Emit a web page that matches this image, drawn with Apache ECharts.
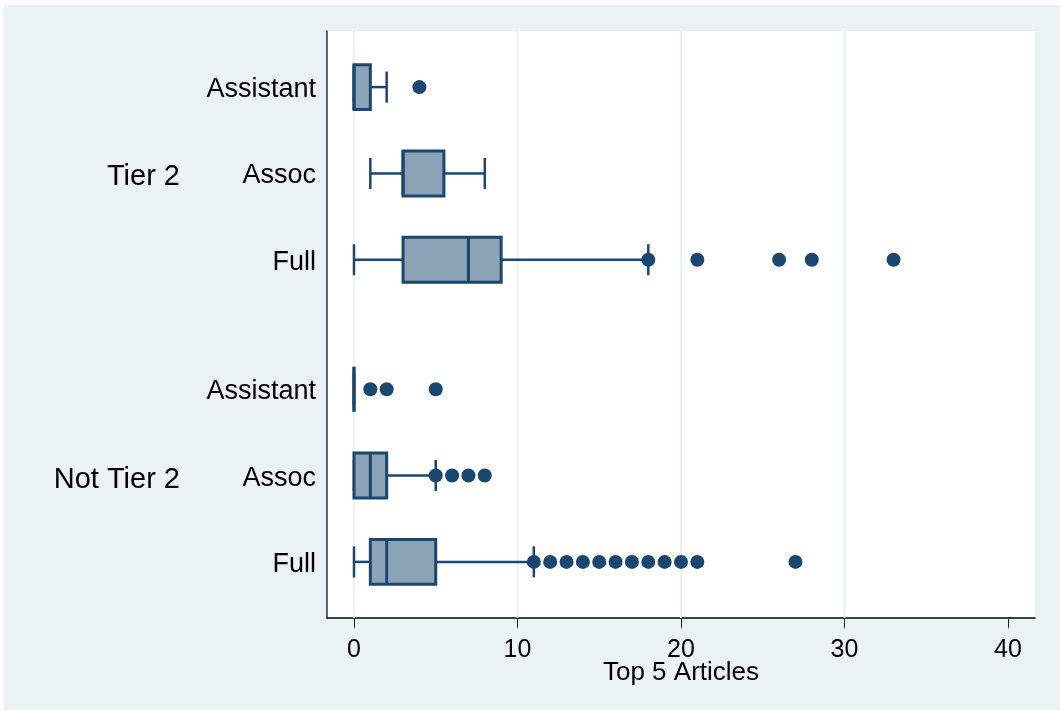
<!DOCTYPE html>
<html>
<head>
<meta charset="utf-8">
<title>Top 5 Articles by rank and tier</title>
<script src="https://cdn.jsdelivr.net/npm/echarts@6/dist/echarts.min.js"></script>
<style>
  html, body { margin: 0; padding: 0; background: #ffffff; }
  #chart { width: 1060px; height: 711px; }
</style>
</head>
<body>
<div id="chart"></div>
<script>
// Groups and academic ranks (top to bottom)
const groups = ['Tier 2', 'Not Tier 2'];
const ranks = ['Assistant', 'Assoc', 'Full'];

// Box statistics per rank: [lower adjacent, q1, median, q3, upper adjacent]
const tier2Boxes = [[0, 0, 0, 1, 2], [1, 3, 3, 5.5, 8], [0, 3, 7, 9, 18]];
const notTier2Boxes = [[0, 0, 0, 0, 0], [0, 0, 1, 2, 5], [0, 1, 2, 5, 11]];

// Individual points drawn beyond the box
const tier2Points = [[4], [], [18, 21, 26, 28, 33]];
const notTier2Points = [[1, 2, 5], [5, 6, 7, 8], [11, 12, 13, 14, 15, 16, 17, 18, 19, 20, 21, 27]];

// Axis ticks and grid lines
const xTicks = [0, 10, 20, 30, 40];
const xGridLines = [0, 10, 20, 30];
const xTitle = 'Top 5 Articles';

const NAVY = '#1a476f';
const BOX_FILL = '#8ca3b7';
const BG = '#eaf2f3';
const FONT = '"Liberation Sans", Arial, Helvetica, sans-serif';

// Row positions on the vertical axis: ranks are one unit apart, groups half a unit further apart
const boxesByGroup = [tier2Boxes, notTier2Boxes];
const pointsByGroup = [tier2Points, notTier2Points];
const rowPos = [], rowName = {}, groupPos = [], groupName = {};
const boxData = [], pointData = [];
groups.forEach((g, gi) => {
  const base = gi * (ranks.length + 0.5);
  ranks.forEach((r, ri) => {
    const p = base + ri;
    rowPos.push(p);
    rowName[p] = r;
    boxData.push([p].concat(boxesByGroup[gi][ri]));
    pointsByGroup[gi][ri].forEach(v => pointData.push([v, p]));
  });
  const mid = base + (ranks.length - 1) / 2;
  groupPos.push(mid);
  groupName[mid] = g;
});

// Vertical grid line spanning the full plot height
function renderGridLine(params, api) {
  const cs = params.coordSys;
  const x = api.coord([api.value(0), 0])[0];
  return {
    type: 'line',
    shape: { x1: x, y1: cs.y, x2: x, y2: cs.y + cs.height },
    style: { stroke: BG, lineWidth: 2 }
  };
}

// Horizontal box: whiskers with caps, filled box, median line
function renderBox(params, api) {
  const p = api.value(0);
  const low = api.value(1), q1 = api.value(2), med = api.value(3), q3 = api.value(4), high = api.value(5);
  const unit = api.size([0, 1])[1];
  const boxH = unit * 0.52;
  const capH = unit * 0.36;
  const cLow = api.coord([low, p]);
  const cQ1 = api.coord([q1, p]);
  const cMed = api.coord([med, p]);
  const cQ3 = api.coord([q3, p]);
  const cHigh = api.coord([high, p]);
  const y = cLow[1];
  const lineStyle = { stroke: NAVY, lineWidth: 2.5 };
  return {
    type: 'group',
    children: [
      { type: 'line', shape: { x1: cLow[0], y1: y, x2: cQ1[0], y2: y }, style: lineStyle },
      { type: 'line', shape: { x1: cQ3[0], y1: y, x2: cHigh[0], y2: y }, style: lineStyle },
      { type: 'line', shape: { x1: cLow[0], y1: y - capH / 2, x2: cLow[0], y2: y + capH / 2 }, style: lineStyle },
      { type: 'line', shape: { x1: cHigh[0], y1: y - capH / 2, x2: cHigh[0], y2: y + capH / 2 }, style: lineStyle },
      {
        type: 'rect',
        shape: { x: cQ1[0], y: y - boxH / 2, width: cQ3[0] - cQ1[0], height: boxH },
        style: { fill: BOX_FILL, stroke: NAVY, lineWidth: 3 }
      },
      { type: 'line', shape: { x1: cMed[0], y1: y - boxH / 2, x2: cMed[0], y2: y + boxH / 2 }, style: { stroke: NAVY, lineWidth: 3 } }
    ]
  };
}

const chart = echarts.init(document.getElementById('chart'), null, { renderer: 'canvas' });
chart.setOption({
  animation: false,
  backgroundColor: '#ffffff',
  textStyle: { fontFamily: FONT },
  graphic: [{
    type: 'rect', z: -10, silent: true,
    shape: { x: 4, y: 5, width: 1056, height: 705 },
    style: { fill: BG }
  }],
  grid: {
    left: 327, top: 31, right: 25, bottom: 93,
    show: true, backgroundColor: '#ffffff', borderWidth: 0
  },
  xAxis: {
    type: 'value',
    min: -1.65, max: 41.65,
    name: xTitle,
    nameLocation: 'middle',
    nameGap: 42,
    nameMoveOverlap: false,
    nameTextStyle: { color: '#000', fontSize: 26, fontFamily: FONT },
    axisLine: { show: true, onZero: false, lineStyle: { color: '#000', width: 1.5 } },
    axisTick: { show: true, customValues: xTicks, length: 10, lineStyle: { color: '#222', width: 1 } },
    axisLabel: { customValues: xTicks, margin: 20, color: '#000', fontSize: 25, fontFamily: FONT },
    splitLine: { show: false }
  },
  yAxis: [{
    type: 'value',
    inverse: true,
    min: -0.65, max: 6.15,
    axisLine: { show: true, onZero: false, lineStyle: { color: '#333', width: 1.5 } },
    axisTick: { show: false },
    axisLabel: {
      customValues: rowPos, margin: 11, color: '#000', fontSize: 27, fontFamily: FONT,
      formatter: v => '{r|' + (rowName[v] || '') + '}',
      rich: { r: { fontSize: 27, fontFamily: FONT, color: '#000', padding: [5, 0, 0, 0] } }
    },
    splitLine: { show: false }
  }, {
    type: 'value',
    inverse: true,
    position: 'left',
    offset: 136,
    min: -0.65, max: 6.15,
    axisLine: { show: false },
    axisTick: { show: false },
    axisLabel: {
      customValues: groupPos, margin: 11, color: '#000', fontSize: 29, fontFamily: FONT,
      formatter: v => '{g|' + (groupName[v] || '') + '}',
      rich: { g: { fontSize: 29, fontFamily: FONT, color: '#000', padding: [8, 0, 0, 0] } }
    },
    splitLine: { show: false }
  }],
  series: [{
    type: 'custom',
    name: 'grid',
    silent: true,
    renderItem: renderGridLine,
    encode: { x: 0 },
    data: xGridLines.map(v => [v]),
    z: 1
  }, {
    type: 'custom',
    name: 'boxes',
    renderItem: renderBox,
    encode: { x: [1, 2, 3, 4, 5], y: 0 },
    data: boxData,
    z: 3
  }, {
    type: 'scatter',
    name: 'points',
    symbol: 'circle',
    symbolSize: 14,
    itemStyle: { color: NAVY, opacity: 1 },
    data: pointData,
    z: 4
  }]
});
</script>
</body>
</html>
